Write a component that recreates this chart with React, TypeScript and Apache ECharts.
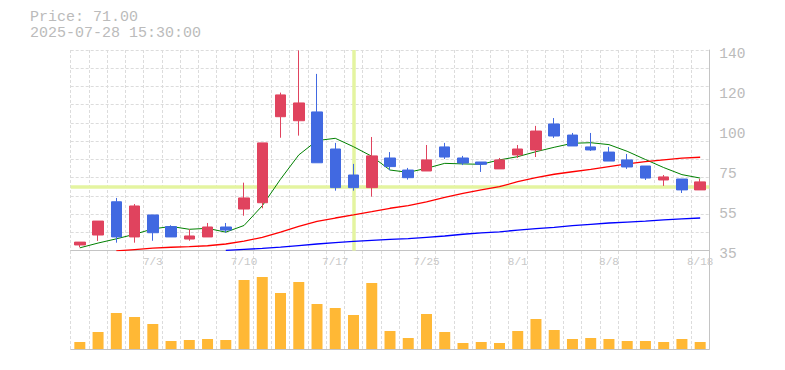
import React, { useEffect, useRef } from 'react';
import * as echarts from 'echarts';

const dates = ['6/27','6/30','7/1','7/2','7/3','7/4','7/7','7/8','7/9','7/10','7/11','7/14','7/15','7/16','7/17','7/18','7/22','7/23','7/24','7/25','7/28','7/29','7/30','7/31','8/1','8/4','8/5','8/6','8/7','8/8','8/12','8/13','8/14','8/15','8/18'];
const labeledDates = ['7/3','7/10','7/17','7/25','8/1','8/8','8/18'];

const opens  = [38.0,43.2,60.6,42.2,53.7,47.6,41.1,42.2,47.4,56.8,60.1,105.1,103.0,107.6,88.2,74.6,68.0,83.5,77.2,76.7,89.3,83.5,81.4,77.8,85.1,87.7,101.3,95.5,89.3,86.6,82.5,79.3,72.0,72.5,66.8];
const closes = [39.5,50.5,42.2,58.4,44.4,42.2,42.7,47.4,45.8,62.6,91.4,116.5,112.3,81.0,68.0,68.0,84.6,79.0,73.2,82.5,84.0,80.9,80.2,82.5,88.2,97.6,95.0,89.8,87.7,81.9,78.8,73.0,73.6,66.8,71.0];
const lows   = [36.8,40.1,39.2,39.2,40.2,42.2,40.2,42.2,44.4,53.3,57.2,94.1,95.2,81.0,66.4,66.4,63.3,77.1,72.2,76.7,83.0,79.8,76.2,77.8,83.5,84.0,94.0,89.8,87.2,81.9,77.8,72.0,68.9,65.2,66.8];
const highs  = [39.5,50.5,62.6,59.4,53.7,48.3,46.2,49.5,49.5,70.6,91.4,117.7,139.8,127.5,91.4,80.4,94.5,86.6,78.3,90.3,91.4,84.6,81.4,83.5,90.3,100.3,104.4,96.6,96.6,89.3,85.6,79.3,74.6,72.5,72.5];

const ma5  = [36.5,39.0,41.2,43.6,46.4,47.7,46.2,46.7,44.7,48.2,58.5,72.4,85.1,92.6,93.8,89.4,84.4,77.2,76.0,78.1,80.7,80.4,80.2,82.5,84.2,86.8,89.1,91.2,91.5,90.5,87.0,82.7,78.5,74.8,73.0];
const ma25 = [null,null,34.9,35.6,36.3,36.8,37.1,37.6,38.5,40.0,42.0,44.7,47.7,50.3,52.1,53.7,55.4,57.2,58.6,60.6,62.9,65.0,66.8,68.5,71.1,73.2,75.0,76.3,77.6,79.0,80.4,81.6,82.5,83.4,83.9];
const ma75 = [null,null,null,null,null,null,null,null,35.2,35.7,36.2,36.9,37.7,38.5,39.2,39.9,40.4,40.9,41.3,42.0,42.7,43.6,44.3,44.9,45.8,46.5,47.2,48.1,48.8,49.5,50.0,50.5,51.1,51.6,52.1];

const volumes = [70,170,360,320,250,80,90,100,90,690,720,560,670,450,410,340,660,180,110,350,170,60,70,60,180,300,190,100,110,100,80,80,70,100,70];

const yMin = 35;
const yMax = 140;
const yInterval = 21;
const yTickLabels = ['35','55','75','100','120','140'];

const crosshairIndex = 15;
const crosshairPrice = 68.5;

const headerPrice = 'Price: 71.00';
const headerTime = '2025-07-28 15:30:00';

const FONT = '"Liberation Mono", "DejaVu Sans Mono", monospace';

export default function App() {
  const ref = useRef<HTMLDivElement>(null);
  useEffect(() => {
    if (!ref.current) return;
    const chart = echarts.init(ref.current, null, { renderer: 'svg' });
    const candleData = dates.map((_, i) => [opens[i], closes[i], lows[i], highs[i]]);
    const dashed = { color: '#dcdcdc', width: 1, type: [3, 2] as any };
    const axisCol = '#c4c4c4';
    chart.setOption({
      animation: false,
      backgroundColor: '#ffffff',
      graphic: [
        {
          type: 'text', left: 30, top: 9,
          style: { text: headerPrice + '\n' + headerTime, font: `15px ${FONT}`, lineHeight: 16, fill: '#bbbbbb' },
        },
      ],
      grid: [
        { left: 70.7, right: 75.7, top: 50, height: 200.7 },
        { left: 70.7, right: 75.7, top: 251, height: 98 },
      ],
      xAxis: [
        {
          type: 'category', gridIndex: 0, data: dates, boundaryGap: true,
          axisLine: { show: true, lineStyle: { color: axisCol, width: 1 } },
          axisTick: { show: false },
          axisLabel: {
            interval: (i: number, v: string) => labeledDates.includes(v),
            color: '#c8c8c8', fontFamily: FONT, fontSize: 11, margin: 6,
          },
          splitLine: { show: true, interval: 0, lineStyle: dashed },
        },
        {
          type: 'category', gridIndex: 1, data: dates, boundaryGap: true,
          axisLine: { show: true, lineStyle: { color: axisCol, width: 1 } },
          axisTick: { show: false },
          axisLabel: { show: false },
          splitLine: { show: true, interval: 0, lineStyle: dashed },
        },
      ],
      yAxis: [
        {
          type: 'value', gridIndex: 0, position: 'right', min: yMin, max: yMax, interval: yInterval,
          axisLine: { show: true, lineStyle: { color: axisCol, width: 1 } },
          axisTick: { show: false },
          splitLine: { show: false },
          axisLabel: {
            formatter: (v: number) => yTickLabels[Math.round((v - yMin) / yInterval)] ?? '',
            color: '#bbbbbb', fontFamily: FONT, fontSize: 14.5, margin: 10,
            verticalAlign: 'top', lineHeight: 7,
          },
        },
        {
          type: 'value', gridIndex: 0, position: 'left', min: 0, max: 11, interval: 1,
          axisLine: { show: false }, axisTick: { show: false }, axisLabel: { show: false },
          splitLine: { show: true, lineStyle: dashed },
        },
        {
          type: 'value', gridIndex: 1, position: 'right', min: 0, max: 980,
          axisLine: { show: true, lineStyle: { color: axisCol, width: 1 } },
          axisTick: { show: false }, axisLabel: { show: false },
          splitLine: { show: false },
        },
      ],
      series: [
        {
          type: 'line', xAxisIndex: 0, yAxisIndex: 0, data: ma5, showSymbol: false, z: 2,
          lineStyle: { color: '#008000', width: 1 }, connectNulls: false,
        },
        {
          type: 'line', xAxisIndex: 0, yAxisIndex: 0, data: ma25, showSymbol: false, z: 2,
          lineStyle: { color: '#ff0000', width: 1.3 }, connectNulls: false,
        },
        {
          type: 'line', xAxisIndex: 0, yAxisIndex: 0, data: ma75, showSymbol: false, z: 2,
          lineStyle: { color: '#0000ff', width: 1.3 }, connectNulls: false,
        },
        {
          type: 'candlestick', xAxisIndex: 0, yAxisIndex: 0, data: candleData, barWidth: 11, z: 3,
          itemStyle: { color: '#e0435e', color0: '#4169e1', borderColor: '#e0435e', borderColor0: '#4169e1', borderWidth: 1 },
          markLine: {
            z: 1, silent: true, symbol: ['none', 'none'], label: { show: false },
            lineStyle: { color: '#e4f4a0', width: 3.5, type: 'solid', opacity: 1 },
            data: [{ xAxis: crosshairIndex }, { yAxis: crosshairPrice }],
          },
        },
        {
          type: 'bar', xAxisIndex: 1, yAxisIndex: 2, data: volumes, barWidth: 11,
          itemStyle: { color: '#ffb835' },
        },
      ],
    });
    return () => chart.dispose();
  }, []);
  return <div ref={ref} style={{ position: 'fixed', left: 0, top: 0, width: 785, height: 370 }} />;
}
